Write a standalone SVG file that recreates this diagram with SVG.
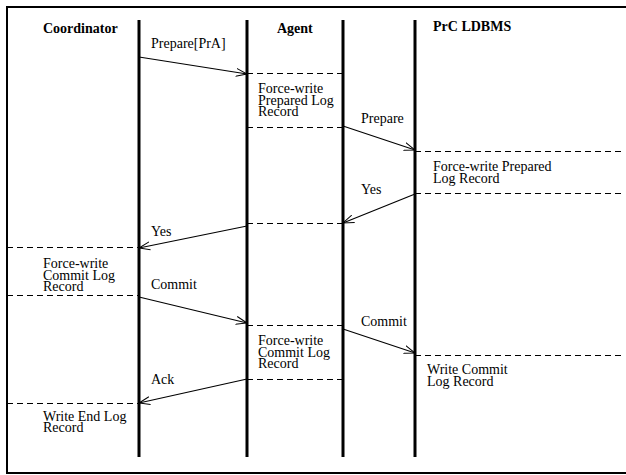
<svg xmlns="http://www.w3.org/2000/svg" width="626" height="475" viewBox="0 0 626 475">
<defs>
<style>
.t{font-family:"Liberation Serif","Times New Roman",serif;font-size:14px;fill:#000}
.h{font-family:"Liberation Serif","Times New Roman",serif;font-size:14px;font-weight:bold;fill:#000}
.life{stroke:#000;stroke-width:3}
.d{stroke:#000;stroke-width:1;stroke-dasharray:6,4;fill:none}
.m{stroke:#000;stroke-width:1.2;fill:none;marker-end:url(#ah)}
</style>
<marker id="ah" viewBox="0 0 12 10" refX="11" refY="5" markerWidth="12" markerHeight="10" markerUnits="userSpaceOnUse" orient="auto">
<path d="M0,1 L11,5 L0,9" fill="none" stroke="#000" stroke-width="1"/>
</marker>
</defs>
<rect x="0" y="0" width="626" height="475" fill="#fff"/>
<rect x="7" y="7" width="640" height="466" fill="none" stroke="#000" stroke-width="2"/>
<g id="coordinator">
<line class="life" x1="139" y1="20" x2="139" y2="457"/>
<text class="h" x="43" y="33">Coordinator</text>
</g>
<g id="agent">
<line class="life" x1="247" y1="20" x2="247" y2="457"/>
<line class="life" x1="343" y1="20" x2="343" y2="457"/>
<text class="h" x="277" y="33">Agent</text>
</g>
<g id="prc-ldbms">
<line class="life" x1="415" y1="20" x2="415" y2="457"/>
<text class="h" x="433" y="31">PrC LDBMS</text>
</g>
<g id="phases">
<line class="d" x1="247" y1="73.5" x2="343" y2="73.5"/>
<line class="d" x1="247" y1="127.5" x2="343" y2="127.5"/>
<text class="t" x="258" y="93">Force-write</text>
<text class="t" x="258" y="104.5">Prepared Log</text>
<text class="t" x="258" y="116">Record</text>
<line class="d" x1="415" y1="151.5" x2="624" y2="151.5"/>
<line class="d" x1="415" y1="193.5" x2="624" y2="193.5"/>
<text class="t" x="433" y="171">Force-write Prepared</text>
<text class="t" x="433" y="183">Log Record</text>
<line class="d" x1="247" y1="223.5" x2="343" y2="223.5"/>
<line class="d" x1="7" y1="247.5" x2="139" y2="247.5"/>
<line class="d" x1="7" y1="295.5" x2="139" y2="295.5"/>
<text class="t" x="43" y="268">Force-write</text>
<text class="t" x="43" y="279.5">Commit Log</text>
<text class="t" x="43" y="291">Record</text>
<line class="d" x1="247" y1="325.5" x2="343" y2="325.5"/>
<line class="d" x1="247" y1="379.5" x2="343" y2="379.5"/>
<text class="t" x="258" y="345">Force-write</text>
<text class="t" x="258" y="356.5">Commit Log</text>
<text class="t" x="258" y="368">Record</text>
<line class="d" x1="415" y1="355.5" x2="624" y2="355.5"/>
<text class="t" x="427" y="374">Write Commit</text>
<text class="t" x="427" y="386">Log Record</text>
<line class="d" x1="7" y1="403.5" x2="139" y2="403.5"/>
<text class="t" x="43" y="421">Write End Log</text>
<text class="t" x="43" y="432">Record</text>
</g>
<g id="connectors">
<line class="m" x1="139" y1="57" x2="247" y2="74"/>
<text class="t" x="151" y="48">Prepare[PrA]</text>
<line class="m" x1="343" y1="126" x2="415" y2="150"/>
<text class="t" x="361" y="123">Prepare</text>
<line class="m" x1="415" y1="194" x2="343" y2="223"/>
<text class="t" x="361" y="194">Yes</text>
<line class="m" x1="247" y1="226" x2="139" y2="248"/>
<text class="t" x="151" y="236">Yes</text>
<line class="m" x1="139" y1="297" x2="247" y2="323"/>
<text class="t" x="151" y="289">Commit</text>
<line class="m" x1="343" y1="329" x2="415" y2="353"/>
<text class="t" x="361" y="326">Commit</text>
<line class="m" x1="247" y1="379" x2="139" y2="403"/>
<text class="t" x="151" y="384">Ack</text>
</g>
</svg>
